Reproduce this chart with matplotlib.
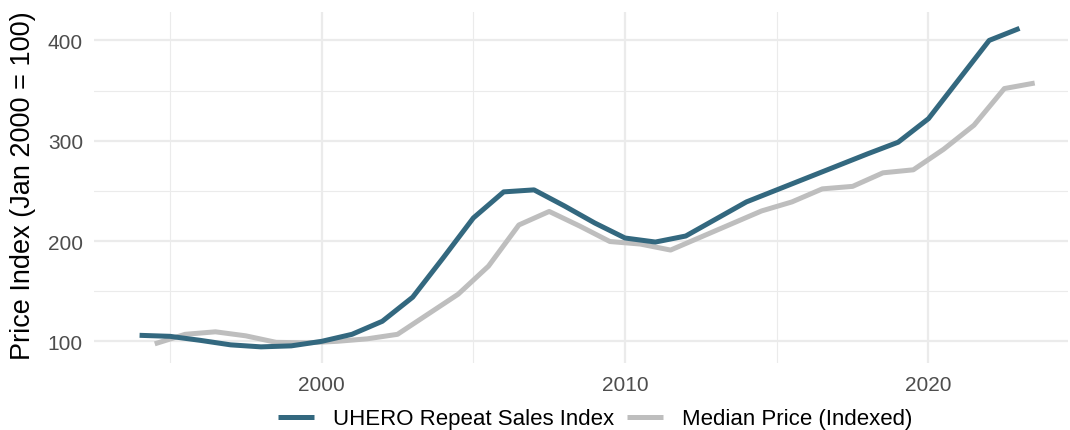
import numpy as np
import matplotlib
matplotlib.use("Agg")
import matplotlib.pyplot as plt
from matplotlib.ticker import MultipleLocator

plt.rcParams['font.family'] = ['Liberation Sans', 'DejaVu Sans']

# UHERO repeat sales index, annual (Jan of each year)
uhero_years = [1994, 1995, 1996, 1997, 1998, 1999, 2000, 2001, 2002, 2003,
               2004, 2005, 2006, 2007, 2008, 2009, 2010, 2011, 2012, 2013,
               2014, 2015, 2016, 2017, 2018, 2019, 2020, 2021, 2022, 2023]
uhero_vals = [106, 105, 101, 96.5, 94.5, 95.5, 100, 107, 120, 144,
              183, 223, 249, 251, 235, 218, 203, 199, 205, 222,
              239, 251, 263, 275, 287, 298.5, 322, 361, 400, 412]

# median price, indexed (mid-year points)
median_years = [1994.5, 1995.5, 1996.5, 1997.5, 1998.5, 1999.5, 2000.5, 2001.5,
                2002.5, 2003.5, 2004.5, 2005.5, 2006.5, 2007.5, 2008.5, 2009.5,
                2010.5, 2011.5, 2012.5, 2013.5, 2014.5, 2015.5, 2016.5, 2017.5,
                2018.5, 2019.5, 2020.5, 2021.5, 2022.5, 2023.5]
median_vals = [97.5, 107, 109.5, 105.5, 99, 98.5, 100, 102.5,
               107, 127, 147, 175, 216, 229.5, 215, 199.5,
               197, 191, 204, 217, 230, 239, 252, 254.5,
               268, 271, 291.5, 315.5, 352, 357.5]

fig = plt.figure(figsize=(10.7, 4.31), dpi=100)
ax = fig.add_axes([0.0879, 0.1545, 0.9103, 0.8146])

ax.plot(uhero_years, uhero_vals, color="#33687F", lw=3.6,
        solid_capstyle="butt", label="UHERO Repeat Sales Index", zorder=3)
ax.plot(median_years, median_vals, color="#BEBEBE", lw=3.6,
        solid_capstyle="butt", label="Median Price (Indexed)", zorder=2)

ax.set_xlim(1992.5, 2024.6)
ax.set_ylim(78, 428)
ax.xaxis.set_major_locator(MultipleLocator(10))
ax.xaxis.set_minor_locator(MultipleLocator(5))
ax.yaxis.set_major_locator(MultipleLocator(100))
ax.yaxis.set_minor_locator(MultipleLocator(50))

ax.grid(which="major", color="#EBEBEB", lw=1.6)
ax.grid(which="minor", color="#EBEBEB", lw=0.8)
ax.set_axisbelow(True)
for s in ax.spines.values():
    s.set_visible(False)
ax.tick_params(which="both", length=0)
ax.tick_params(axis="x", pad=8, labelsize=15, labelcolor="#4D4D4D")
ax.tick_params(axis="y", pad=8, labelsize=15, labelcolor="#4D4D4D")

ax.set_ylabel("Price Index (Jan 2000 = 100)", fontsize=19.5, color="black", va="center")
ax.yaxis.set_label_coords(-0.073, 0.508)

fig.legend(loc="center", bbox_to_anchor=(0.5565, 0.026), ncol=2, frameon=False,
           fontsize=16, handlelength=1.6, handletextpad=0.87, columnspacing=0.6)

fig.savefig("out.png", dpi=100)
